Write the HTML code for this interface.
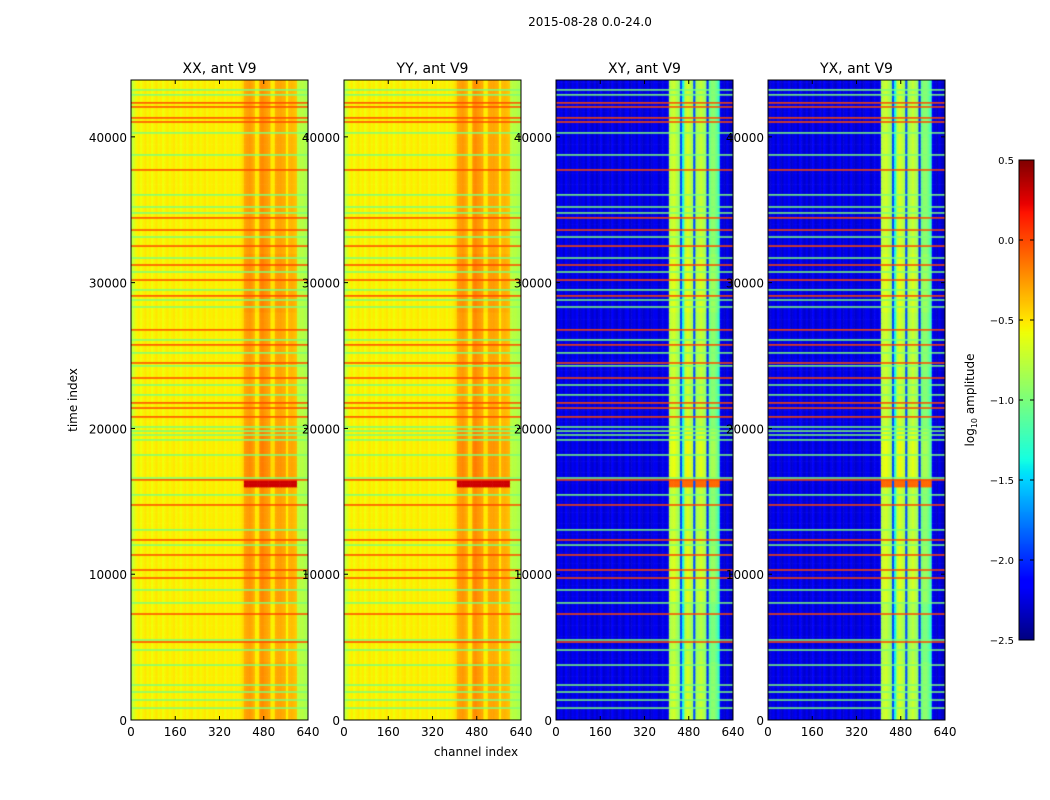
<!DOCTYPE html>
<html><head><meta charset="utf-8"><style>
body{margin:0;background:#fff;font-family:"DejaVu Sans","Liberation Sans",sans-serif;}
#wrap{position:relative;width:1050px;height:800px;overflow:hidden;background:#fff}
canvas{position:absolute}
</style></head><body>
<div id="wrap">
<svg id="ov" width="1050" height="800" style="position:absolute;left:0;top:0;z-index:2"></svg>
</div>
<script>
// ---- data ----
const tMax = 43900;
const chanXX = [-0.78,-0.66,-0.56,-0.52,-0.58,-0.54,-0.5,-0.56,-0.52,-0.58,-0.54,-0.5,-0.56,-0.52,-0.58,-0.54,-0.51,-0.56,-0.53,-0.5,-0.56,-0.52,-0.58,-0.54,-0.51,-0.56,-0.52,-0.5,-0.56,-0.54,-0.51,-0.56,-0.53,-0.5,-0.56,-0.52,-0.54,-0.51,-0.56,-0.52,-0.54,-0.51,-0.56,-0.52,-0.54,-0.51,-0.56,-0.52,-0.54,-0.51,-0.46,-0.33,-0.3,-0.28,-0.31,-0.36,-0.54,-0.52,-0.26,-0.24,-0.28,-0.3,-0.32,-0.54,-0.54,-0.34,-0.32,-0.31,-0.34,-0.35,-0.56,-0.38,-0.37,-0.39,-0.42,-0.76,-0.8,-0.78,-0.82,-0.84];
const chanYY = chanXX.map(v=>v);
const chanXY = [-2.3,-2.25,-2.2,-2.3,-2.15,-2.25,-2.3,-2.2,-2.25,-2.15,-2.3,-2.25,-2.2,-2.3,-2.15,-2.25,-2.3,-2.2,-2.3,-2.25,-2.15,-2.3,-2.25,-2.2,-2.3,-2.15,-2.25,-2.3,-2.2,-2.25,-2.3,-2.2,-2.15,-2.3,-2.25,-2.2,-2.3,-2.15,-2.25,-2.3,-2.25,-2.2,-2.3,-2.25,-2.2,-2.2,-2.3,-2.25,-2.2,-2.25,-2.2,-0.85,-0.78,-0.75,-0.85,-0.95,-1.9,-1.4,-0.82,-0.72,-0.8,-0.9,-1.9,-0.9,-0.85,-0.78,-0.85,-0.95,-2.0,-1.1,-1.0,-1.0,-1.1,-1.3,-2.2,-2.25,-2.3,-2.2,-2.3,-2.35];
const chanYX = chanXY.map(v=>v);
const timeBoost = [0.03,0.0,0.05,0.03,0.08,0.02,0.03,0.06,0.03,0.03,0.02,0.02];
const redStripes = [42330,42050,41300,41020,37730,34440,33610,32510,31210,30180,29090,26760,25730,24490,23460,21750,21400,20790,16470,14750,12350,11320,10290,9740,7270,5350];
const greenStripes = [43220,42880,40270,38760,36020,35190,34780,33130,31690,30730,29500,28810,28330,26070,25180,24290,22980,22300,20100,19820,19550,19210,18180,16600,15440,13040,12000,8920,8030,5490,4800,3770,2400,1920,1370,820];
const hotBand = [16000,16500];
const panels = [
 {name:'XX',title:'XX, ant V9',x:131,chan:chanXX,boost:1},
 {name:'YY',title:'YY, ant V9',x:344,chan:chanYY,boost:1},
 {name:'XY',title:'XY, ant V9',x:556,chan:chanXY,boost:2},
 {name:'YX',title:'YX, ant V9',x:768,chan:chanYX,boost:2}];
const xTicks=[0,160,320,480,640];
const yTicks=[0,10000,20000,30000,40000];
const cbTicks=[0.5,0.0,-0.5,-1.0,-1.5,-2.0,-2.5];
// ---- helpers ----
const vmin=-2.5,vmax=0.5;
function interp(x,pts){for(let i=1;i<pts.length;i++){if(x<=pts[i][0]){const a=pts[i-1],b=pts[i];return a[1]+(b[1]-a[1])*(x-a[0])/(b[0]-a[0]);}}return pts[pts.length-1][1];}
const RJ=[[0,0],[0.35,0],[0.66,1],[0.89,1],[1,0.5]];
const GJ=[[0,0],[0.125,0],[0.375,1],[0.64,1],[0.91,0],[1,0]];
const BJ=[[0,0.5],[0.11,1],[0.34,1],[0.65,0],[1,0]];
function jet(v){let x=(v-vmin)/(vmax-vmin);x=Math.max(0,Math.min(1,x));
 return 'rgb('+Math.round(255*interp(x,RJ))+','+Math.round(255*interp(x,GJ))+','+Math.round(255*interp(x,BJ))+')';}
const topY=80,botY=720,pw=177;
const ty=t=>botY-(t/tMax)*(botY-topY);
const wrap=document.getElementById('wrap');
const ov=document.getElementById('ov');
const NS='http://www.w3.org/2000/svg';
const FF='DejaVu Sans, Liberation Sans, sans-serif';
function sv(tag,attrs,txt){const e=document.createElementNS(NS,tag);for(const k in attrs)e.setAttribute(k,attrs[k]);if(txt!==undefined)e.textContent=txt;ov.appendChild(e);return e;}
function txt(s,x,y,anchor,size,rot){const a={x:x,y:y,'text-anchor':anchor||'middle','font-size':size||13,'font-family':FF};if(rot)a.transform='rotate(-90 '+x+' '+y+')';return sv('text',a,s);}
const rowStep=250;
panels.forEach(p=>{
 const c=document.createElement('canvas');c.width=pw;c.height=botY-topY;c.style.left=p.x+'px';c.style.top=topY+'px';
 
 
 wrap.appendChild(c);const g=c.getContext('2d');
 const nc=p.chan.length,cw=pw/nc;
 for(let t=0;t<tMax;t+=rowStep){
  const y0=ty(t+rowStep),y1=ty(t);
  const b=timeBoost[Math.min(timeBoost.length-1,Math.floor(t/4000))];
  for(let i=0;i<nc;i++){
   let v=p.chan[i];
   const inBand=i>=51&&i<75;
   if(inBand&&p.chan[i]>-1.5)v+=b*p.boost;
   if(inBand&&t>=hotBand[0]&&t<hotBand[1]&&p.chan[i]>-1.5)v=p.boost>1?-0.1:0.3;
   g.fillStyle=jet(v);g.fillRect(i*cw,y0-topY,cw+0.6,y1-y0+0.6);
  }
 }
 greenStripes.forEach(t=>{g.fillStyle=jet(-1.0);g.fillRect(0,ty(t)-topY-0.75,pw,1.5);});
 redStripes.forEach(t=>{g.fillStyle=jet(0.0);g.fillRect(0,ty(t)-topY-0.75,pw,1.5);});
 const r=sv('rect',{x:p.x,y:topY,width:pw,height:botY-topY,fill:'none',stroke:'#000','stroke-width':1});
 
 
 const tt=txt(p.title,p.x+pw/2,73,'middle',14);
 
 
 xTicks.forEach(v=>{const x=p.x+v/640*pw;
  sv('line',{x1:x,y1:botY,x2:x,y2:botY-4,stroke:'#000'});sv('line',{x1:x,y1:topY,x2:x,y2:topY+4,stroke:'#000'});
  const l=txt(String(v),x,736,'middle',12);
  
  });
 yTicks.forEach(v=>{const y=ty(v);
  sv('line',{x1:p.x,y1:y,x2:p.x+4,y2:y,stroke:'#000'});sv('line',{x1:p.x+pw,y1:y,x2:p.x+pw-4,y2:y,stroke:'#000'});
  const l=txt(String(v),p.x-4,y+5,'end',12);
  
  });
});
// colorbar
const cb=document.createElement('canvas');cb.width=15;cb.height=480;cb.style.left='1019px';cb.style.top='160px';


wrap.appendChild(cb);const cg=cb.getContext('2d');
for(let y=0;y<480;y++){cg.fillStyle=jet(vmax-(y+0.5)/480*(vmax-vmin));cg.fillRect(0,y,15,1);}
sv('rect',{x:1019,y:160,width:15,height:480,fill:'none',stroke:'#000'});
cbTicks.forEach(v=>{const y=160+(vmax-v)/(vmax-vmin)*480;
 sv('line',{x1:1019,y1:y,x2:1023,y2:y,stroke:'#000'});sv('line',{x1:1034,y1:y,x2:1030,y2:y,stroke:'#000'});
 const l=txt(String(v.toFixed(1)).replace('-','\u2212'),1014,y+4,'end',10);
 
 });
const cl=sv('text',{x:974,y:400,'text-anchor':'middle','font-size':12,'font-family':FF,transform:'rotate(-90 974 400)'});


cl.innerHTML='log<tspan font-size="8" dy="3">10</tspan><tspan dy="-3"> amplitude</tspan>';
const st=txt('2015-08-28 0.0-24.0',590,26,'middle',12);


const yl=txt('time index',77,400,'middle',12,true);


const xl=txt('channel index',476,756,'middle',12);


</script>
</body></html>
